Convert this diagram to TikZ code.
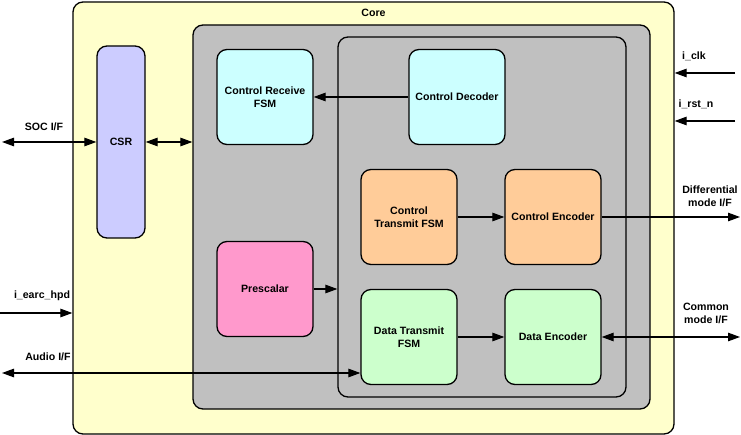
\documentclass[tikz,border=0pt]{standalone}
\usepackage{fontspec}
\setmainfont{Liberation Sans}
\usetikzlibrary{arrows.meta}
\definecolor{coreyel}{HTML}{FFFFCC}
\definecolor{subgray}{HTML}{C0C0C0}
\definecolor{csrblue}{HTML}{CCCCFF}
\definecolor{rxcyan}{HTML}{CCFFFF}
\definecolor{txorange}{HTML}{FFCC99}
\definecolor{prepink}{HTML}{FF99CC}
\definecolor{datagreen}{HTML}{CCFFCC}
\tikzset{
  blk/.style={draw, line width=1.3pt, rounded corners=10pt, minimum width=96pt,
    minimum height=95pt, align=center, font=\bfseries\fontsize{10.6}{13}\selectfont},
  lbl/.style={align=center, font=\bfseries\fontsize{10.6}{13}\selectfont},
  arr/.style={line width=1.2pt, -{Triangle[length=12pt,width=8.5pt]}},
  dbl/.style={line width=1.2pt, {Triangle[length=12pt,width=8.5pt]}-{Triangle[length=12pt,width=8.5pt]}}
}

\begin{document}
\begin{tikzpicture}[x=1pt,y=-1pt]
\useasboundingbox (0,0) rectangle (741,435);

\node[draw, line width=1.3pt, rounded corners=10pt, fill=coreyel, minimum width=601pt, minimum height=432pt] (core) at (373.5,218) {};
\node[lbl, below=4pt] (corelbl) at (core.north) {Core};
\node[draw, line width=1.3pt, rounded corners=10pt, fill=subgray, minimum width=457pt, minimum height=384pt] (sub) at (421.5,217) {};
\node[draw, line width=1.3pt, rounded corners=10pt, minimum width=288pt, minimum height=360pt] (inner) at (482,217) {};

\node[blk, fill=csrblue, minimum width=48pt, minimum height=192pt] (csr) at (121,142) {CSR};
\node[blk, fill=rxcyan] (crx) at (265,97) {Control Receive\\FSM};
\node[blk, fill=rxcyan] (cdec) at (457,97) {Control Decoder};
\node[blk, fill=txorange] (ctx) at (409,217) {Control\\Transmit FSM};
\node[blk, fill=txorange] (cenc) at (553,217) {Control Encoder};
\node[blk, fill=prepink] (pre) at (265,289) {Prescalar};
\node[blk, fill=datagreen] (dtx) at (409,337) {Data Transmit\\FSM};
\node[blk, fill=datagreen] (denc) at (553,337) {Data Encoder};

\coordinate (socL) at (2,142);
\coordinate (audL) at (2,373);
\coordinate (hpdL) at (0,313);
\coordinate (clkR) at (735,73);
\coordinate (rstR) at (735,121);
\coordinate (diffR) at (740,217);
\coordinate (cmR) at (740,337);

\draw[dbl] (socL) -- (csr.west);
\draw[dbl] (csr.east) -- (sub.west |- csr.east);
\draw[arr] (cdec) -- (crx);
\draw[arr] (ctx) -- (cenc);
\draw[arr] (cenc) -- (diffR);
\draw[arr] (pre) -- (pre -| inner.west);
\draw[arr] (dtx) -- (denc);
\draw[dbl] (denc) -- (cmR);
\draw[dbl] (audL) -- (audL -| dtx.west);
\draw[arr] (hpdL) -- (hpdL -| core.west);
\draw[arr] (clkR) -- (clkR -| core.east);
\draw[arr] (rstR) -- (rstR -| core.east);

\node[lbl] (soclbl) at (44,127) {SOC I/F};
\node[lbl] (audlbl) at (48,357) {Audio I/F};
\node[lbl] (hpdlbl) at (42,296) {i\_earc\_hpd};
\node[lbl] (clklbl) at (694,56) {i\_clk};
\node[lbl] (rstlbl) at (696,104) {i\_rst\_n};
\node[lbl] (difflbl) at (710,196) {Differential\\mode I/F};
\node[lbl] (cmlbl) at (706,313) {Common\\mode I/F};

\end{tikzpicture}
\end{document}
